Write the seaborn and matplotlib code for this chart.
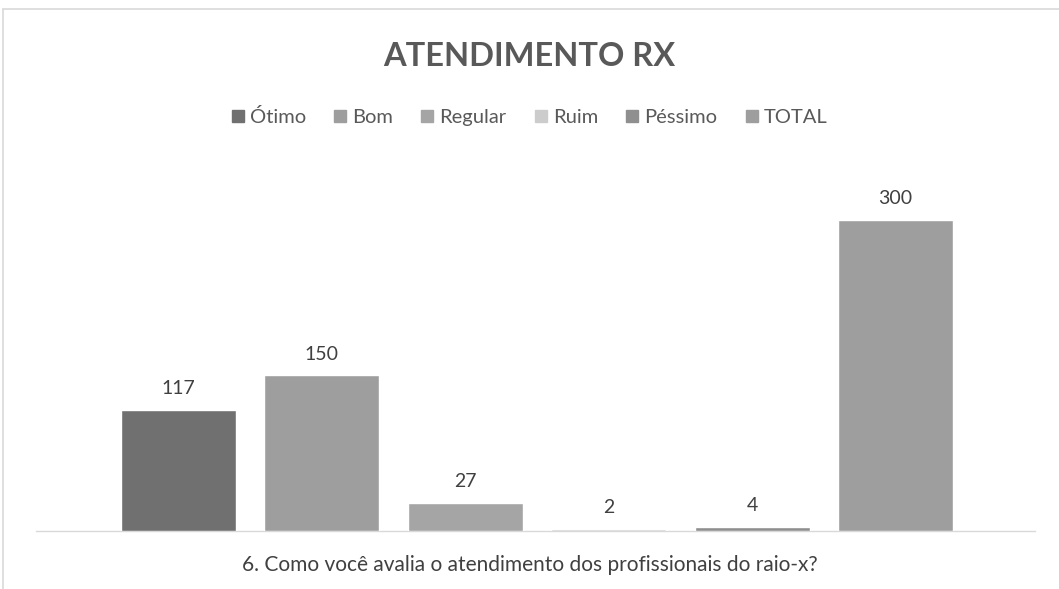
import pandas as pd
import matplotlib.pyplot as plt
import matplotlib.patches as mpatches
import seaborn as sns

# chart data
categorias = ["Ótimo", "Bom", "Regular", "Ruim", "Péssimo", "TOTAL"]
valores = [117, 150, 27, 2, 4, 300]
cores = ["#707070", "#9e9e9e", "#a5a5a5", "#cccccc", "#8f8f8f", "#9e9e9e"]

df = pd.DataFrame({"categoria": categorias, "valor": valores})

sns.set_theme(style="white")
plt.rcParams["font.family"] = ["Lato", "DejaVu Sans"]

fig = plt.figure(figsize=(10.59, 5.89), dpi=100)
W, H = 1059, 589
# plot area: x 36..1035 px, baseline at 531 px
ax = fig.add_axes([36 / W, (H - 531) / H, (1035 - 36) / W, 363 / H])

sns.barplot(data=df, x="categoria", y="valor", hue="categoria",
            palette=cores, order=categorias, hue_order=categorias,
            dodge=False, width=0.8, legend=False, ax=ax, zorder=3)

ax.set_ylim(0, 350)
ax.set_xlim(-0.993, 5.972)
ax.set_xticks([])
ax.set_yticks([])
ax.set_xlabel("")
ax.set_ylabel("")
for s in ["top", "right", "left"]:
    ax.spines[s].set_visible(False)
ax.spines["bottom"].set_color("#d9d9d9")
ax.spines["bottom"].set_linewidth(1.0)
ax.spines["bottom"].set_zorder(1)

for i, v in enumerate(valores):
    ax.annotate(str(v), (i, v), xytext=(0, 9), textcoords="offset points",
                ha="center", va="bottom", fontsize=14, color="#404040")

fig.text(0.5, 1 - 57 / H, "ATENDIMENTO RX", ha="center", va="center",
         fontsize=23.5, fontweight="bold", color="#595959")
fig.text(0.5, 1 - 565 / H, "6. Como você avalia o atendimento dos profissionais do raio-x?",
         ha="center", va="center", fontsize=15, color="#404040")

handles = [mpatches.Patch(color=c, label=l) for c, l in zip(cores, categorias)]
leg = fig.legend(handles=handles, loc="center", bbox_to_anchor=(0.5, 1 - 117 / H),
                 ncol=6, frameon=False, fontsize=14.5, handlelength=0.6,
                 handleheight=0.6, handletextpad=0.3, columnspacing=1.4)
for t in leg.get_texts():
    t.set_color("#595959")

# chart border (light gray)
fig.add_artist(plt.Line2D([3 / W, 3 / W], [0, 1 - 9 / H], color="#d9d9d9", lw=1.2))
fig.add_artist(plt.Line2D([3 / W, 1], [1 - 9 / H, 1 - 9 / H], color="#d9d9d9", lw=1.2))

fig.savefig("out.png", dpi=100)
